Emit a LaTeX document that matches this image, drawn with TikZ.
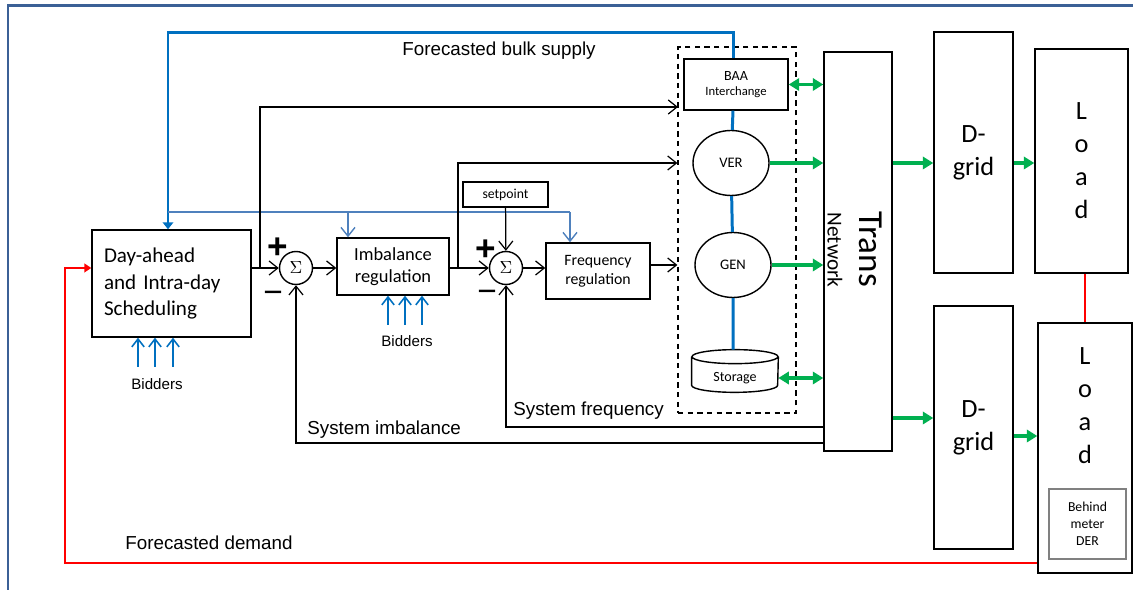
\documentclass[tikz,border=0pt]{standalone}
\usepackage{fontspec}
\setmainfont{Liberation Sans}
\newfontfamily\calib{Carlito}
\usetikzlibrary{arrows.meta,shapes.geometric}
\definecolor{bulkblue}{RGB}{0,112,192}
\definecolor{infoblue}{RGB}{79,129,189}
\definecolor{flowgreen}{RGB}{0,176,80}
\definecolor{framecol}{RGB}{59,96,150}
\begin{document}
\begin{tikzpicture}[x=0.02cm,y=-0.02cm,
  blk/.style={draw,line width=0.8pt,inner sep=0pt,align=center},
  sumnode/.style={draw,circle,line width=0.8pt,minimum size=0.66cm,inner sep=0pt,font=\fontsize{10}{10}\selectfont},
  barb/.style={-{Straight Barb[length=5pt,width=8pt]}},
  sig/.style={line width=0.7pt,barb},
  bid/.style={bulkblue,line width=0.9pt,-{Straight Barb[length=4.5pt,width=7pt]}},
  info/.style={infoblue,line width=0.8pt},
  bulk/.style={bulkblue,line width=1.7pt,-{Triangle[length=4pt,width=6pt]}},
  flow/.style={flowgreen,line width=1.9pt,-{Triangle[length=6pt,width=7pt]}},
  flows/.style={flowgreen,line width=1.9pt,{Triangle[length=6pt,width=7pt]}-{Triangle[length=6pt,width=7pt]}},
  demand/.style={red,line width=1.1pt},
  txt/.style={inner sep=0pt,font=\fontsize{10.7}{12.8}\selectfont}]%scheduling and balancing loop
\useasboundingbox (0,0) rectangle (1133,590);
\draw[framecol,line width=1.7pt] (8,590) -- (8,6) -- (1133,6);
% control blocks
\node[blk,minimum width=3.18cm,minimum height=2.14cm,text width=2.7cm,align=left,font=\calib\fontsize{12}{14.8}\selectfont] (day) at (171.5,283.5) {Day-ahead\\and Intra-day\\Scheduling};
\node[sumnode] (sum1) at (296,268) {$\Sigma$};
\node[blk,minimum width=2.24cm,minimum height=1.14cm,font=\calib\fontsize{10.5}{12.5}\selectfont] (imb) at (393,266.5) {Imbalance\\regulation};
\node[sumnode] (sum2) at (506,268) {$\Sigma$};
\node[blk,minimum width=1.7cm,minimum height=0.5cm,font=\calib\fontsize{7.8}{9}\selectfont] (setp) at (505.5,194.5) {setpoint};
\node[blk,minimum width=2.08cm,minimum height=1.12cm,font=\calib\fontsize{9}{10.8}\selectfont] (freq) at (598,271) {Frequency\\regulation};
\node[font=\fontsize{20}{20}\selectfont\bfseries,inner sep=0pt] (plus1) at (278,248) {+};
\node[font=\fontsize{19}{19}\selectfont,inner sep=0pt] (minus1) at (273,297) {−};
\node[font=\fontsize{20}{20}\selectfont\bfseries,inner sep=0pt] (plus2) at (486,250) {+};
\node[font=\fontsize{19}{19}\selectfont,inner sep=0pt] (minus2) at (487,296) {−};
% generation side
\node[draw,line width=0.7pt,dash pattern=on 3pt off 2.5pt,minimum width=2.36cm,minimum height=7.32cm] (gens) at (737,230) {};
\node[blk,minimum width=2.08cm,minimum height=1.02cm,font=\calib\fontsize{8}{8.5}\selectfont] (baa) at (736,84.5) {BAA\\{\fontsize{7.2}{8.5}\selectfont Interchange}};
\node[draw,ellipse,line width=0.8pt,minimum width=1.52cm,minimum height=1.3cm,inner sep=0pt,font=\calib\fontsize{8.3}{9}\selectfont] (ver) at (731,163) {VER};
\node[draw,ellipse,line width=0.8pt,minimum width=1.52cm,minimum height=1.3cm,inner sep=0pt,font=\calib\fontsize{8.3}{9}\selectfont] (gen) at (733,265) {GEN};
\node[minimum width=1.72cm,minimum height=0.84cm,inner sep=0pt] (stor) at (735,371) {};
\draw[line width=0.8pt] ([yshift=-0.14cm]stor.north) ellipse (0.86cm and 0.14cm)
  ([yshift=-0.14cm]stor.north west) -- ([yshift=0.14cm]stor.south west)
  arc[start angle=180,end angle=360,x radius=0.86cm,y radius=0.14cm] -- ([yshift=-0.14cm]stor.north east);
\node[inner sep=0pt,font=\calib\fontsize{8}{9}\selectfont] (stortxt) at (735,378) {Storage};
% network side
\node[blk,minimum width=1.36cm,minimum height=7.98cm] (trans) at (858,251.5) {};
\node[rotate=-90,inner sep=0pt,font=\calib\fontsize{20}{20}\selectfont] (transtxt) at (871,249) {Trans};
\node[rotate=-90,inner sep=0pt,font=\calib\fontsize{12.1}{13}\selectfont] (nettxt) at (835,250) {Network};
\node[blk,minimum width=1.58cm,minimum height=4.82cm,font=\calib\fontsize{15}{18.8}\selectfont] (dg1) at (973.5,152.5) {D-\\grid};
\node[blk,minimum width=1.58cm,minimum height=4.86cm,font=\calib\fontsize{15}{18.8}\selectfont] (dg2) at (973.5,427.5) {D-\\grid};
\node[blk,minimum width=1.86cm,minimum height=4.48cm,font=\calib\fontsize{15}{18.8}\selectfont] (ld1) at (1081.5,161) {L\\o\\a\\d};
\node[blk,minimum width=1.88cm,minimum height=5cm] (ld2) at (1085,448) {};
\node[inner sep=0pt,align=center,font=\calib\fontsize{15}{18.8}\selectfont] (ld2txt) at (1085,406) {L\\o\\a\\d};
\node[draw=gray,line width=0.8pt,minimum width=1.54cm,minimum height=1.4cm,inner sep=0pt,align=center,font=\calib\fontsize{7.8}{9.7}\selectfont] (der) at (1087.5,524) {Behind\\meter\\DER};
% texts
\node[txt,anchor=base west] (bulklbl) at (402,56) {Forecasted bulk supply};
\node[txt,anchor=base west] (imblbl) at (307,435) {System imbalance};
\node[txt,anchor=base west] (frqlbl) at (513,416) {System frequency};
\node[txt,anchor=base west] (demlbl) at (125,550) {Forecasted demand};
\node[inner sep=0pt,anchor=base,font=\fontsize{8.6}{10}\selectfont] (bid1) at (157,390) {Bidders};
\node[inner sep=0pt,anchor=base,font=\fontsize{8.6}{10}\selectfont] (bid2) at (407,347) {Bidders};
% connectors
\coordinate (bulkc) at (168,33);
\draw[bulk] (baa.north -| gen) |- (bulkc) -- (bulkc |- day.north);
\coordinate (infoa) at (168,212);
\coordinate (infob) at (348,212);
\coordinate (infoc) at (570,212);
\draw[info] (infoa) -- (infoc);
\draw[info,barb] (infob) -- (infob |- imb.north);
\draw[info,barb] (infoc) -- (infoc |- freq.north);
\foreach \x in {138,155,173} \draw[bid] (\x,367) -- (day.south -| \x,0);
\foreach \x in {388,405,422} \draw[bid] (\x,325) -- (imb.south -| \x,0);
\coordinate (j1) at (260,268);
\coordinate (j2) at (458,268);
\coordinate (baain) at (678,107);
\draw[sig] (day.east |- sum1) -- (sum1);
\draw[sig] (j1) |- (baain);
\draw[sig] (sum1) -- (imb.west |- sum1);
\draw[sig] (imb.east |- sum2) -- (sum2);
\draw[sig] (j2) |- (gens.west |- ver);
\draw[sig] (setp) -- (sum2);
\draw[sig] (sum2) -- (freq.west |- sum2);
\draw[sig] (freq.east |- gen) -- (gens.west |- gen);
\coordinate (fbimb) at (824,443);
\coordinate (fbfrq) at (824,427);
\draw[sig] (fbimb) -| (sum1);
\draw[sig] (fbfrq) -| (sum2);
\draw[bulkblue,line width=1.7pt] (baa.south -| gen) -- (ver) -- (gen) -- (stor.north -| gen);
\coordinate (storin) at (780,378);
\draw[flows] (baa) -- (trans.west |- baa);
\draw[flow] (ver) -- (trans.west |- ver);
\draw[flow] (gen) -- (trans.west |- gen);
\draw[flows] (stor.east |- storin) -- (trans.west |- storin);
\coordinate (dgin) at (900,418);
\coordinate (ldin) at (1020,436);
\draw[flow] (trans.east |- ver) -- (dg1.west |- ver);
\draw[flow] (dg1.east |- ver) -- (ld1.west |- ver);
\draw[flow] (trans.east |- dgin) -- (dg2.west |- dgin);
\draw[flow] (dg2.east |- ldin) -- (ld2.west |- ldin);
\coordinate (demc) at (65,563);
\draw[demand,-{Triangle[length=4pt,width=5pt]}] (ld2.west |- demc) -- (demc) |- (day.west |- sum1);
\draw[demand] (ld1.south -| ld2) -- (ld2.north);
\end{tikzpicture}
\end{document}
